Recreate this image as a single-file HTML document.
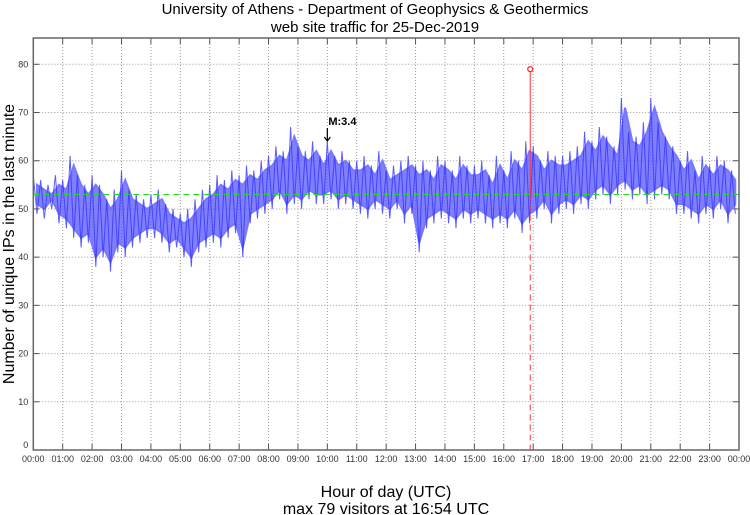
<!DOCTYPE html>
<html><head><meta charset="utf-8"><style>
body{margin:0;background:#fff;}
svg{display:block;font-family:"Liberation Sans",sans-serif;}
</style></head><body>
<svg id="chart" width="750" height="515" viewBox="0 0 750 515">
<text x="375" y="14" text-anchor="middle" font-size="15">University of Athens - Department of Geophysics &amp; Geothermics</text>
<text x="375" y="32" text-anchor="middle" font-size="15">web site traffic for 25-Dec-2019</text>
<g id="grid"></g>
<g id="series"></g>
<g id="axes"></g>
<text transform="translate(14,244) rotate(-90)" text-anchor="middle" font-size="16">Number of unique IPs in the last minute</text>
<text x="386" y="497" text-anchor="middle" font-size="16">Hour of day (UTC)</text>
<text x="386" y="514" text-anchor="middle" font-size="16">max 79 visitors at 16:54 UTC</text>
</svg>
<script>
const hourLabels=["00:00","01:00","02:00","03:00","04:00","05:00","06:00","07:00","08:00","09:00","10:00","11:00","12:00","13:00","14:00","15:00","16:00","17:00","18:00","19:00","20:00","21:00","22:00","23:00","00:00"];
const yTicks=[0,10,20,30,40,50,60,70,80];
const binLows=[49,48,50,47,46,44,42,43,38,40,37,41,40,42,43,44,44,43,41,42,40,38,41,42,43,42,44,45,40,47,48,49,50,52,49,51,50,52,51,51,52,50,51,50,49,48,50,49,48,50,47,49,41,46,47,48,47,46,48,47,48,47,46,47,46,48,45,47,48,50,47,49,50,49,51,50,52,53,51,53,54,52,53,51,52,53,52,49,49,48,47,49,48,50,47,49];
const binHighs=[57,56,55,57,56,61,57,55,57,55,52,54,58,54,53,52,53,54,51,50,49,50,52,54,55,57,56,58,57,59,58,60,61,63,62,67,63,62,64,61,64,61,62,60,60,61,59,62,58,59,60,61,59,60,58,61,60,58,61,59,59,60,57,61,58,62,60,64,63,60,62,61,61,62,63,66,64,67,65,63,73,66,65,68,73,68,65,63,60,62,58,61,59,61,60,58];
const meanValue=53;
const maxValue=79;
const maxHour=16+54/60;
const markerLabel="M:3.4";
const markerHour=10;

const X0=33.3,X1=739,Y0=450,Y80=64.3,TOP=38;
const xs=h=>X0+(X1-X0)*h/24;
const ys=v=>Y0-(Y0-Y80)*v/80;
const NS="http://www.w3.org/2000/svg";
function mk(tag,parent,attrs){const e=document.createElementNS(NS,tag);for(const k in attrs)e.setAttribute(k,attrs[k]);parent.appendChild(e);return e;}
const gridG=document.getElementById('grid'),axesG=document.getElementById('axes'),seriesG=document.getElementById('series');

mk('rect',gridG,{x:X0,y:TOP,width:X1-X0,height:Y0-TOP,fill:'#fff',stroke:'none'});
hourLabels.forEach((lab,i)=>{
  const x=xs(i);
  if(i>0&&i<24){const g=mk('line',gridG,{x1:x,x2:x,y1:TOP,y2:Y0,stroke:'#999','stroke-dasharray':'1,2','stroke-width':1});
  
  }
  const t1=mk('line',axesG,{x1:x,x2:x,y1:Y0,y2:Y0-6,stroke:'#555'});
  
  
  mk('line',axesG,{x1:x,x2:x,y1:TOP,y2:TOP+6,stroke:'#555'});
  const t=mk('text',axesG,{x:x,y:Y0+12,'text-anchor':'middle','font-size':9,fill:'#333'});
  t.textContent=lab;
  
  
});
yTicks.forEach(v=>{
  const y=ys(v);
  if(v>0){const g=mk('line',gridG,{x1:X0,x2:X1,y1:y,y2:y,stroke:'#999','stroke-dasharray':'1,2'});
  
  }
  mk('line',axesG,{x1:X0,x2:X0+6,y1:y,y2:y,stroke:'#555'});
  mk('line',axesG,{x1:X1,x2:X1-6,y1:y,y2:y,stroke:'#555'});
  const t=mk('text',axesG,{x:X0-5,y:y+(v===0?-2:3),'text-anchor':'end','font-size':9,fill:'#333'});
  t.textContent=v;
  
  
});
const fr=mk('rect',axesG,{x:X0,y:TOP,width:X1-X0,height:Y0-TOP,fill:'none',stroke:'#666','stroke-width':1.5});



// band + zigzag
const nBins=binLows.length;
const upperPts=[],lowerPts=[],zigPts=[];
for(let i=0;i<nBins;i++){
  const hc=24*(i+0.5)/nBins;
  upperPts.push(xs(hc).toFixed(1)+','+ys(binHighs[i]-2).toFixed(1));
  lowerPts.unshift(xs(hc).toFixed(1)+','+ys(binLows[i]+2).toFixed(1));
  const h0=24*i/nBins,h1=24*(i+0.5)/nBins;
  zigPts.push(xs(h0).toFixed(1)+','+ys(binHighs[i]).toFixed(1));
  zigPts.push(xs(h1).toFixed(1)+','+ys(binLows[i]).toFixed(1));
}
const band=mk('polygon',seriesG,{points:upperPts.concat(lowerPts).join(' '),fill:'#5555ff','fill-opacity':0.75,stroke:'#7777ff','stroke-width':2});


const pl=mk('polyline',seriesG,{points:zigPts.join(' '),fill:'none',stroke:'#3333ff','stroke-width':1,'stroke-opacity':0.8});


const ml=mk('line',seriesG,{x1:X0,x2:X1,y1:ys(meanValue),y2:ys(meanValue),stroke:'#22dd22','stroke-dasharray':'6,4','stroke-width':1});


const mx=xs(maxHour);
const rl=mk('line',seriesG,{x1:mx,x2:mx,y1:ys(maxValue),y2:ys(meanValue),stroke:'#ff3333','stroke-width':1});


const rd=mk('line',seriesG,{x1:mx,x2:mx,y1:ys(meanValue),y2:Y0,stroke:'#ff3333','stroke-dasharray':'6,4','stroke-width':1});


const mc=mk('circle',seriesG,{cx:mx,cy:ys(maxValue),r:2.5,fill:'#fff',stroke:'#ff2222','stroke-width':1.2});


const mxk=xs(markerHour);
const mt=mk('text',seriesG,{x:mxk+1,y:125,'font-size':11,'font-weight':'bold'});
mt.textContent=markerLabel;


const ma=mk('path',seriesG,{d:`M${mxk} 128 L${mxk} 141 M${mxk-3} 137 L${mxk} 141 L${mxk+3} 137`,stroke:'#000',fill:'none','stroke-width':1.2});


</script>
</body></html>
